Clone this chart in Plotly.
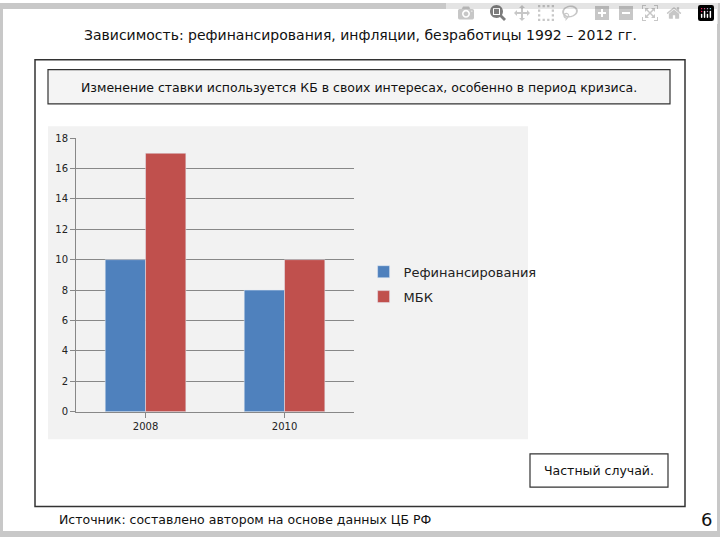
import plotly.graph_objects as go

years = ["2008", "2010"]
refin = [10, 8]
mbk = [17, 10]
yticks = [0, 2, 4, 6, 8, 10, 12, 14, 16, 18]

fig = go.Figure()
fig.add_trace(go.Bar(x=years, y=refin, name="Рефинансирования", marker_color="#4f81bd", legendgroup="a"))
fig.add_trace(go.Bar(x=years, y=mbk, name="МБК", marker_color="#c0504d", legendgroup="b"))

F = "DejaVu Sans"
fig.update_layout(
    width=720, height=540, margin=dict(l=0, r=0, t=0, b=0),
    paper_bgcolor="white", plot_bgcolor="#f2f2f2",
    barmode="group", bargap=0.42, bargroupgap=0,
    font=dict(family=F, color="#222"),
    xaxis=dict(domain=[0.1056, 0.4917], showline=True, linecolor="#888", ticks="outside",
               tickcolor="#888", tickfont=dict(size=10)),
    yaxis=dict(domain=[0.2315, 0.75], range=[0, 18], tickvals=yticks, showgrid=True,
               gridcolor="#888", showline=True, linecolor="#888", ticks="outside",
               tickcolor="#888", tickfont=dict(size=10), zeroline=False),
    legend=dict(x=0.505, y=0.473, xanchor="left", yanchor="middle", font=dict(size=13),
                bgcolor="rgba(0,0,0,0)", tracegroupgap=5, traceorder="grouped"),
    showlegend=True,
)

shapes = [
    dict(type="rect", xref="paper", yref="paper", x0=35/720, x1=685/720, y0=1-512/540, y1=1-55/540,
         line=dict(color="#333", width=1.5), fillcolor="white", layer="below"),
    dict(type="rect", xref="paper", yref="paper", x0=48/720, x1=528/720, y0=1-443/540, y1=1-123/540,
         line=dict(width=0), fillcolor="#f2f2f2", layer="below"),
    dict(type="rect", xref="paper", yref="paper", x0=48/720, x1=670/720, y0=1-100/540, y1=1-65/540,
         line=dict(color="#333", width=1.2), fillcolor="#f4f4f4", layer="below"),
    dict(type="rect", xref="paper", yref="paper", x0=530/720, x1=668/720, y0=1-492/540, y1=1-458/540,
         line=dict(color="#333", width=1.2), fillcolor="white", layer="below"),
    dict(type="rect", xref="paper", yref="paper", x0=0, x1=1, y0=0, y1=1,
         line=dict(color="#c8c8c8", width=6), fillcolor="rgba(0,0,0,0)"),
]
fig.update_layout(shapes=shapes)

ann = [
    ("Зависимость: рефинансирования, инфляции, безработицы 1992 – 2012 гг.", 360, 30, 14),
    ("Изменение ставки используется КБ в своих интересах, особенно в период кризиса.", 359, 83, 12.5),
    ("Частный случай.", 599, 475, 12.5),
]
for t, x, y, s in ann:
    fig.add_annotation(text=t, x=x/720, y=1-y/540, xref="paper", yref="paper", showarrow=False,
                       xanchor="center", yanchor="middle",
                       font=dict(size=s, family=F, color="#111"))
fig.add_annotation(text="Источник: составлено автором на основе данных ЦБ РФ", x=57/720, y=1-525/540,
                   xref="paper", yref="paper", showarrow=False, xanchor="left", yanchor="middle",
                   font=dict(size=12.5, family=F, color="#111"))
fig.add_annotation(text="6", x=706/720, y=1-525/540, xref="paper", yref="paper", showarrow=False,
                   xanchor="center", yanchor="middle",
                   font=dict(size=18, family=F, color="#111"))

fig.write_html("out.html")
with open("out.html", encoding="utf-8") as f:
    html = f.read()
html = html.replace("<body>", '<body style="margin:0;overflow:hidden">', 1)
with open("out.html", "w", encoding="utf-8") as f:
    f.write(html)
